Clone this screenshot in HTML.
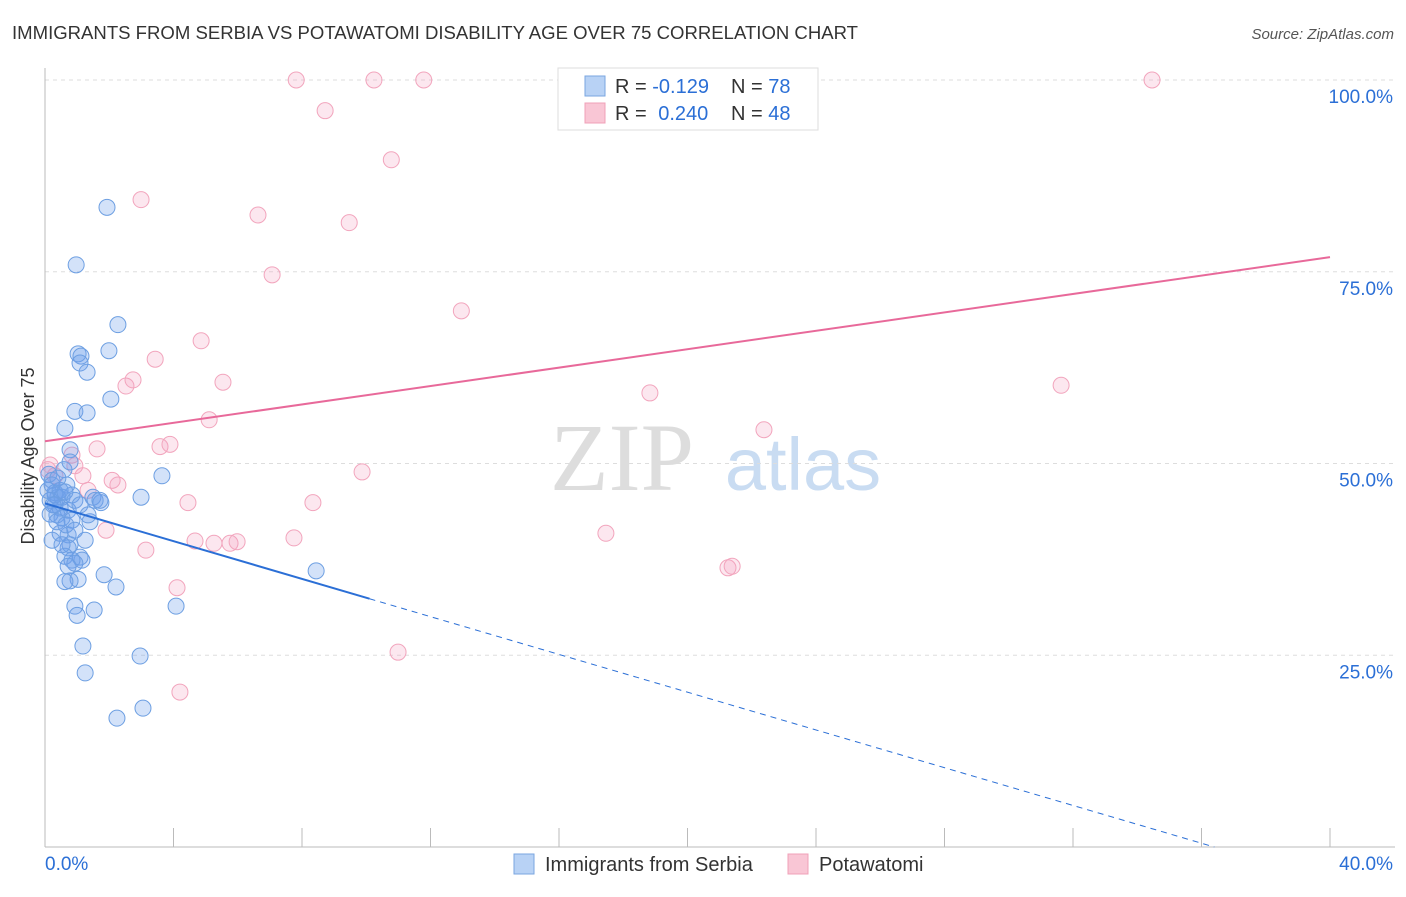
<!DOCTYPE html>
<html><head><meta charset="utf-8"><style>
body{margin:0;background:#fff;font-family:"Liberation Sans",sans-serif;}
svg text{font-family:"Liberation Sans",sans-serif;}
</style></head><body>
<svg id="chart" width="1406" height="892" xmlns="http://www.w3.org/2000/svg">
<text x="12" y="39" font-size="18" fill="#333" textLength="846" lengthAdjust="spacingAndGlyphs">IMMIGRANTS FROM SERBIA VS POTAWATOMI DISABILITY AGE OVER 75 CORRELATION CHART</text>
<text x="1394" y="39" font-size="15" fill="#555" font-style="italic" text-anchor="end">Source: ZipAtlas.com</text>
<text x="34" y="456" font-size="18" fill="#333" text-anchor="middle" transform="rotate(-90 34 456)">Disability Age Over 75</text>
<g>
<text x="622" y="490" font-size="96" fill="#ddd" text-anchor="middle" font-family="Liberation Serif" style="font-family:'Liberation Serif',serif">ZIP</text>
<text x="803" y="490" font-size="74" fill="#c9dcf2" text-anchor="middle">atlas</text>
</g>
<g id="grid"></g>
<g id="marks"></g>
<g id="lines"></g>
<g>
<rect x="558" y="68" width="260" height="62" fill="#fff" stroke="#ddd"/>
<rect x="585" y="76" width="20" height="20" fill="#b8d2f5" stroke="#7aa6e0"/>
<rect x="585" y="103" width="20" height="20" fill="#f9c6d5" stroke="#f0a0b8"/>
<text x="615" y="93" font-size="20" fill="#333">R = <tspan fill="#2b6fd6">-0.129</tspan></text>
<text x="731" y="93" font-size="20" fill="#333">N = <tspan fill="#2b6fd6">78</tspan></text>
<text x="615" y="120" font-size="20" fill="#333">R = <tspan fill="#2b6fd6" dx="6">0.240</tspan></text>
<text x="731" y="120" font-size="20" fill="#333">N = <tspan fill="#2b6fd6">48</tspan></text>
</g>
<g>
<rect x="514" y="854" width="20" height="20" fill="#b8d2f5" stroke="#7aa6e0"/>
<text x="545" y="871" font-size="20" fill="#333">Immigrants from Serbia</text>
<rect x="788" y="854" width="20" height="20" fill="#f9c6d5" stroke="#f0a0b8"/>
<text x="819" y="871" font-size="20" fill="#333">Potawatomi</text>
</g>
</svg>
<script>
const yTicks=[25,50,75,100];
const yTickLabels=["25.0%","50.0%","75.0%","100.0%"];
const xTicks=[0,4,8,12,16,20,24,28,32,36,40];
const blueX=[1.93,0.97,2.27,1.03,1.12,1.99,1.09,1.31,2.05,0.93,1.31,0.62,0.78,3.64,0.12,0.22,2.99,0.68,0.84,1.49,1.74,1.56,0.31,0.40,0.16,0.53,0.31,0.47,0.72,0.16,0.37,0.53,0.84,1.40,0.72,0.47,0.22,0.78,0.72,1.09,1.15,0.62,0.84,0.93,1.84,1.03,0.78,0.62,2.21,0.93,1.53,1.00,4.08,1.18,2.96,1.25,3.05,2.24,8.44,0.31,0.09,0.22,0.47,0.62,0.93,1.09,1.34,1.71,0.37,0.65,0.93,1.25,0.59,0.78,0.40,0.53,0.72,0.25];
const blueY=[83.4,75.9,68.1,64.3,64.0,64.7,63.1,61.9,58.4,56.8,56.6,54.6,51.8,48.4,48.6,47.8,45.6,47.2,45.9,45.6,44.9,45.2,46.2,45.6,45.2,45.6,44.6,44.2,43.9,43.4,43.3,42.9,42.6,42.4,40.7,40.9,40.0,39.4,39.0,37.8,37.4,37.9,37.4,37.0,35.5,34.9,34.7,34.6,33.9,31.4,30.9,30.2,31.4,26.2,24.9,22.7,18.1,16.8,36.0,45.9,46.5,47.2,46.5,46.3,45.2,44.6,43.3,45.2,42.4,42.0,41.3,40.0,49.2,50.2,48.1,39.4,36.6,44.6];
const pinkX=[7.82,10.24,11.79,34.46,8.72,10.78,2.99,6.63,9.47,7.07,12.96,4.86,3.43,2.52,2.74,5.54,31.63,18.83,5.11,22.38,3.58,3.89,1.62,0.84,0.93,9.87,0.09,0.31,1.18,2.09,2.27,1.34,4.45,8.34,1.90,4.67,5.26,5.76,5.98,7.75,17.46,3.14,21.26,21.39,4.11,10.99,4.20,0.16];
const pinkY=[100,100,100,100,96.0,89.6,84.4,82.4,81.4,74.6,69.9,66.0,63.6,60.1,60.9,60.6,60.2,59.2,55.7,54.4,52.2,52.5,51.9,51.1,49.7,48.9,49.2,48.4,48.4,47.8,47.2,46.5,44.9,44.9,41.3,39.9,39.6,39.6,39.8,40.3,40.9,38.7,36.4,36.6,33.8,25.4,20.2,49.8];
const blueTrend=[44.8,0,36.4,10.1];
const pinkTrend=[52.9,76.9];
const X=v=>45+v*32.125, Y=v=>847-v*7.67;
const NS="http://www.w3.org/2000/svg";
function mk(tag,attrs,parent){const e=document.createElementNS(NS,tag);for(const k in attrs)e.setAttribute(k,attrs[k]);parent.appendChild(e);return e;}
const grid=document.getElementById('grid'),marks=document.getElementById('marks'),lines=document.getElementById('lines');
yTicks.forEach((t,i)=>{
 const l=mk('line',{x1:45,x2:1395,y1:Y(t),y2:Y(t),stroke:'#ddd','stroke-dasharray':'4,4'},grid);
 
 
 const tx=mk('text',{x:1393,y:Y(t)+23,'font-size':19,fill:'#2b6fd6','text-anchor':'end'},grid);
 tx.textContent=yTickLabels[i];
 
 
});
const ax=mk('line',{x1:45,x2:45,y1:68,y2:847,stroke:'#bbb'},grid);


const bx=mk('line',{x1:45,x2:1395,y1:847,y2:847,stroke:'#bbb'},grid);


xTicks.forEach(t=>{
 const l=mk('line',{x1:X(t),x2:X(t),y1:828,y2:847,stroke:'#bbb'},grid);
 
 
});
const x0=mk('text',{x:45,y:870,'font-size':19,fill:'#2b6fd6'},grid);x0.textContent='0.0%';


const x1=mk('text',{x:1393,y:870,'font-size':19,fill:'#2b6fd6','text-anchor':'end'},grid);x1.textContent='40.0%';


pinkX.forEach((v,i)=>{
 const c=mk('circle',{cx:X(v),cy:Y(pinkY[i]),r:8,fill:'rgba(245,160,190,0.25)',stroke:'#f2a5bd','stroke-width':1},marks);
 
 
});
blueX.forEach((v,i)=>{
 const c=mk('circle',{cx:X(v),cy:Y(blueY[i]),r:8,fill:'rgba(110,160,235,0.3)',stroke:'#6d9fe2','stroke-width':1},marks);
 
 
});
const by=x=>blueTrend[0]+(blueTrend[1]-blueTrend[0])*x/blueTrend[2];
const bs=mk('line',{x1:X(0),y1:Y(by(0)),x2:X(blueTrend[3]),y2:Y(by(blueTrend[3])),stroke:'#2b6fd6','stroke-width':2},lines);


const bd=mk('line',{x1:X(blueTrend[3]),y1:Y(by(blueTrend[3])),x2:X(blueTrend[2]),y2:Y(0),stroke:'#2b6fd6','stroke-width':1,'stroke-dasharray':'6,5'},lines);


const pl=mk('line',{x1:X(0),y1:Y(pinkTrend[0]),x2:X(40),y2:Y(pinkTrend[1]),stroke:'#e8699a','stroke-width':2},lines);


</script>
</body></html>
